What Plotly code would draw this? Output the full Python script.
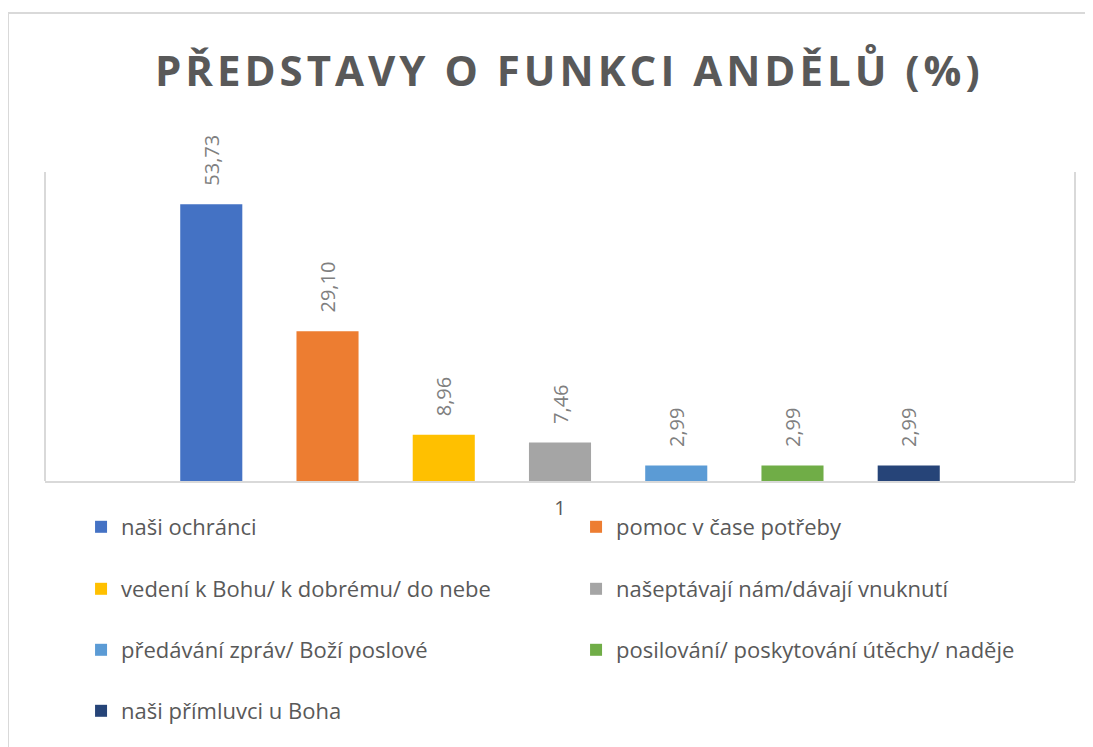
import plotly.graph_objects as go

# jedna kategorie, sedm řad (Excel-styl seskupené sloupce)
kategorie = ["1"]
nazvy = [
    "naši ochránci",
    "pomoc v čase potřeby",
    "vedení k Bohu/ k dobrému/ do nebe",
    "našeptávají nám/dávají vnuknutí",
    "předávání zpráv/ Boží poslové",
    "posilování/ poskytování útěchy/ naděje",
    "naši přímluvci u Boha",
]
hodnoty = [53.73, 29.10, 8.96, 7.46, 2.99, 2.99, 2.99]
barvy = ["#4472C4", "#ED7D31", "#FFC000", "#A5A5A5", "#5B9BD5", "#70AD47", "#264478"]
legendy = ["legend", "legend", "legend2", "legend2", "legend3", "legend3", "legend4"]

FONT = "Open Sans"
SEDA = "#595959"
LINKA = "#d9d9d9"
OFS = 8  # okraj <body> stránky

fig = go.Figure()

for nazev, hodnota, barva, leg in zip(nazvy, hodnoty, barvy, legendy):
    fig.add_trace(go.Bar(x=kategorie, y=[hodnota], name=nazev, marker_color=barva,
                         marker_line_width=0, legend=leg,
                         texttemplate="\u00a0\u00a0\u00a0%{y:.2f}", textposition="outside",
                         textangle=-90, constraintext="none", cliponaxis=False,
                         textfont=dict(family=FONT, size=20, color="#7f7f7f")))

# pozice řádků legendy (střed řádku v px od horního okraje) -> paper souřadnice
plot_top, plot_bottom = 172, 481
vyska = plot_bottom - plot_top


def leg_y(px):
    return (plot_bottom - px) / vyska


leg_common = dict(orientation="h", xanchor="left", yanchor="middle", x=0.035,
                  entrywidth=450, entrywidthmode="pixels", bgcolor="rgba(0,0,0,0)",
                  font=dict(family=FONT, size=22, color=SEDA), traceorder="normal")

titulek = '<span style="letter-spacing:4px"><b>PŘEDSTAVY O FUNKCI ANDĚLŮ (%)</b></span>'

fig.update_layout(
    width=1093 - OFS, height=747 - OFS,
    margin=dict(l=45 - OFS, r=18, t=172 - OFS, b=266),
    paper_bgcolor="white", plot_bgcolor="white",
    separators=", ",
    barmode="group", bargap=0.21, bargroupgap=0.466,
    title=dict(text=titulek, xref="paper", x=0.509,
               xanchor="center", yref="container", y=1 - (71 - OFS) / (747 - OFS),
               yanchor="middle",
               font=dict(family=FONT, size=42, color=SEDA)),
    legend=dict(**leg_common, y=leg_y(527)),
    legend2=dict(**leg_common, y=leg_y(589)),
    legend3=dict(**leg_common, y=leg_y(650)),
    legend4=dict(**leg_common, y=leg_y(711)),
    showlegend=True,
)

fig.update_xaxes(type="category", showline=True, linecolor=LINKA, linewidth=2,
                 ticks="", ticklabelstandoff=8, showgrid=False,
                 tickfont=dict(family=FONT, size=20, color=SEDA))
fig.update_yaxes(visible=False, range=[0, 60], showgrid=False, zeroline=False)

# svislé čáry po stranách plochy grafu a rámeček celého grafu
fig.add_shape(type="line", xref="paper", yref="paper", x0=0, x1=0, y0=0, y1=1,
              line=dict(color=LINKA, width=2))
fig.add_shape(type="line", xref="paper", yref="paper", x0=1, x1=1, y0=0, y1=1,
              line=dict(color=LINKA, width=2))
fig.add_shape(type="rect", xref="paper", yref="paper", x0=(8 - 45) / 1030, x1=1.2,
              y0=-2, y1=(481 - 13) / vyska, line=dict(color=LINKA, width=2))

fig.write_html("out.html")
